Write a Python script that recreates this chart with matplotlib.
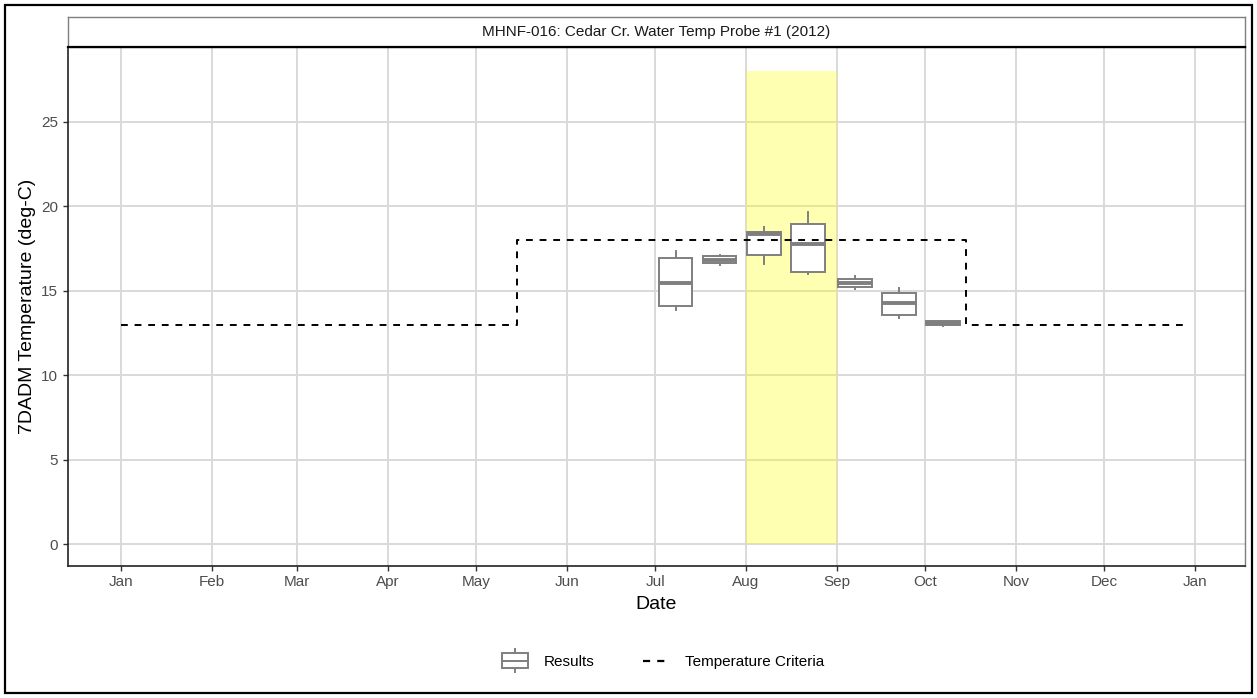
import matplotlib
matplotlib.use("Agg")
import matplotlib.pyplot as plt
import matplotlib.dates as mdates
from matplotlib.patches import Rectangle
from matplotlib.lines import Line2D
from matplotlib.legend_handler import HandlerBase
import datetime as dt

plt.rcParams['font.family'] = ['Liberation Sans', 'DejaVu Sans']

# ---- data ----
title = "MHNF-016: Cedar Cr. Water Temp Probe #1 (2012)"
box_dates = ['2012-07-08', '2012-07-23', '2012-08-07', '2012-08-22',
             '2012-09-07', '2012-09-22', '2012-10-07']
whislo = [13.86, 16.55, 16.61, 15.98, 15.11, 13.41, 12.91]
q1 = [14.10, 16.63, 17.14, 16.11, 15.23, 13.55, 12.97]
med = [15.48, 16.82, 18.37, 17.79, 15.44, 14.30, 13.07]
q3 = [16.92, 17.04, 18.50, 18.96, 15.72, 14.87, 13.19]
whishi = [17.36, 17.10, 18.80, 19.65, 15.90, 15.19, 13.20]

crit_dates = ['2012-01-01', '2012-05-15', '2012-10-15', '2012-12-28']
crit_values = [13, 18, 13, 13]

spawn_start = '2012-08-01'
spawn_end = '2012-09-01'
spawn_top = 28

y_ticks = [0, 5, 10, 15, 20, 25]
month_ticks = ['2012-01-01', '2012-02-01', '2012-03-01', '2012-04-01', '2012-05-01',
               '2012-06-01', '2012-07-01', '2012-08-01', '2012-09-01', '2012-10-01',
               '2012-11-01', '2012-12-01', '2013-01-01']
month_labels = ['Jan', 'Feb', 'Mar', 'Apr', 'May', 'Jun', 'Jul', 'Aug', 'Sep',
                'Oct', 'Nov', 'Dec', 'Jan']

def d(s):
    return mdates.date2num(dt.datetime.strptime(s, '%Y-%m-%d'))

W, H = 1257, 698
fig = plt.figure(figsize=(W / 100, H / 100), dpi=100)

def fx(px):
    return px / W

def fy(py):
    return 1 - py / H

# outer border
fig.patches.append(Rectangle((fx(5), fy(693)), fx(1252) - fx(5), fy(5) - fy(693),
                             transform=fig.transFigure, fill=False, ec='black', lw=1.6))

L, R, T, B = 68, 1245, 47, 566
ax = fig.add_axes([fx(L), fy(B), fx(R) - fx(L), fy(T) - fy(B)])

grid_c = '#d9d9d9'
for m in month_ticks:
    ax.axvline(d(m), color=grid_c, lw=1.4, zorder=0)
for y in y_ticks:
    ax.axhline(y, color=grid_c, lw=1.4, zorder=0)

# yellow window
x0, x1 = d(spawn_start), d(spawn_end)
ax.add_patch(Rectangle((x0, 0), x1 - x0, spawn_top, facecolor='yellow', alpha=0.3,
                       edgecolor='none', zorder=1))

# criteria line
ax.plot([d(s) for s in crit_dates], crit_values, drawstyle='steps-post', color='black',
        lw=1.4, dashes=(3.5, 3.5), zorder=3)

# boxes
stats = []
for i in range(len(box_dates)):
    stats.append(dict(med=med[i], q1=q1[i], q3=q3[i], whislo=whislo[i], whishi=whishi[i],
                      fliers=[]))
box_c = '#7f7f7f'
ax.bxp(stats, positions=[d(s) for s in box_dates], widths=11.5, showcaps=False,
       patch_artist=True, manage_ticks=False,
       boxprops=dict(facecolor='white', edgecolor=box_c, lw=1.4),
       whiskerprops=dict(color=box_c, lw=1.4),
       medianprops=dict(color=box_c, lw=2.8, solid_capstyle='butt'),
       zorder=2)

ax.set_xlim(d('2011-12-14'), d('2013-01-18'))
ax.set_ylim(-1.3, 29.44)
ax.set_xticks([d(m) for m in month_ticks])
ax.set_xticklabels(month_labels)
ax.set_yticks(y_ticks)
ax.tick_params(axis='both', colors='#333333', labelcolor='#4d4d4d', labelsize=11,
               length=3.5, width=1)
ax.tick_params(axis='x', pad=3)
for s in ['top', 'right']:
    ax.spines[s].set_color('#7f7f7f')
    ax.spines[s].set_linewidth(1)
for s in ['left', 'bottom']:
    ax.spines[s].set_color('#222222')
    ax.spines[s].set_linewidth(1.2)

ax.set_xlabel('Date', fontsize=14, color='black', labelpad=5)
ax.set_ylabel('7DADM Temperature (deg-C)', fontsize=14, color='black', labelpad=4)

# strip
sax = fig.add_axes([fx(L), fy(T), fx(R) - fx(L), fy(17) - fy(T)])
sax.set_xticks([]); sax.set_yticks([])
for s in ['top', 'left', 'right']:
    sax.spines[s].set_color('#7f7f7f')
    sax.spines[s].set_linewidth(1)
sax.spines['bottom'].set_color('black')
sax.spines['bottom'].set_linewidth(1.6)
sax.text(0.5, 0.5, title, ha='center', va='center', fontsize=11, color='#1a1a1a',
         transform=sax.transAxes)

# legend
h_box = Line2D([], [], color=box_c)
h_crit = Line2D([], [], color='black', lw=1.6, dashes=(3.2, 3.2))


class BoxHandler(HandlerBase):
    def create_artists(self, legend, orig, xd, yd, w, h, fontsize, trans):
        cx = xd + w / 2
        bw = w * 1.0
        bh = h * 1.4
        cy = yd + h / 2
        rect = Rectangle((cx - bw / 2, cy - bh / 2), bw, bh, facecolor='white',
                         edgecolor=box_c, lw=1.4, transform=trans)
        mline = Line2D([cx - bw / 2, cx + bw / 2], [cy] * 2, color=box_c, lw=1.4,
                       transform=trans)
        wt = Line2D([cx, cx], [cy + bh / 2, cy + bh / 2 + h * 0.4],
                    color=box_c, lw=1.4, transform=trans)
        wb = Line2D([cx, cx], [cy - bh / 2, cy - bh / 2 - h * 0.4],
                    color=box_c, lw=1.4, transform=trans)
        return [rect, mline, wt, wb]


fig.legend([h_box, h_crit], ['Results', 'Temperature Criteria'], loc='center',
           bbox_to_anchor=(fx(663), fy(662)), ncol=2, frameon=False, fontsize=11,
           handler_map={h_box: BoxHandler()}, handlelength=1.75, handletextpad=1.0,
           columnspacing=3.2)

fig.savefig('out.png', dpi=100)
